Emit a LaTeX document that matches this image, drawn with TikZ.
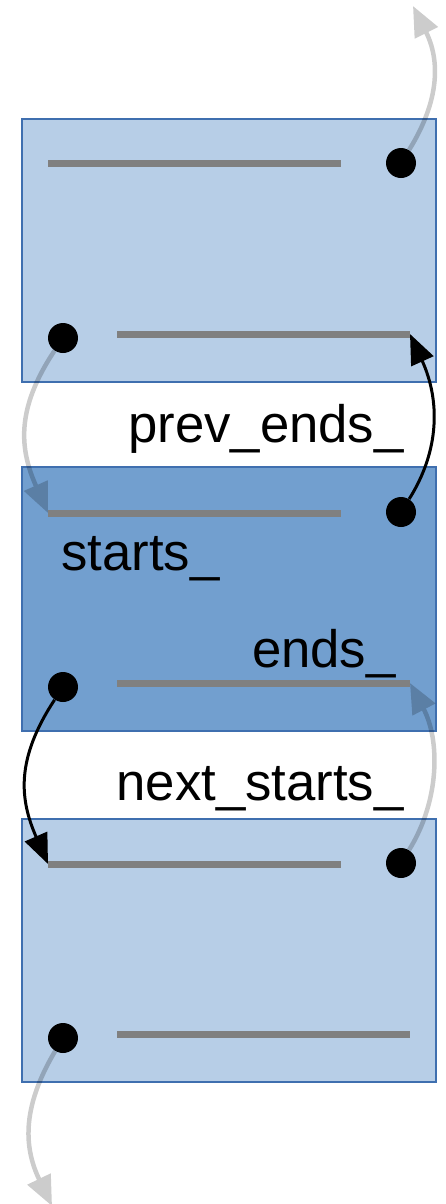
\documentclass[tikz,border=0pt]{standalone}
\usepackage{fontspec}
\setmainfont{Liberation Sans}
\usetikzlibrary{arrows.meta}

\definecolor{paleblue}{HTML}{B7CEE7}
\definecolor{deepblue}{HTML}{729FCF}
\definecolor{rimblue}{HTML}{3F6FAF}

\tikzset{
  block/.style={draw=rimblue,line width=0.6pt},
  slot/.style={draw=gray,line width=0.14cm},
  dot/.style={circle,fill=black,inner sep=0pt,minimum size=0.6cm},
  link/.style={line width=0.06cm,-{Triangle[length=0.6cm,width=0.48cm]}},
  faint/.style={line width=0.09cm,-{Triangle[length=0.6cm,width=0.5cm]}},
  tag/.style={inner sep=0pt,font=\fontsize{30}{36}\selectfont}
}

\begin{document}
\begin{tikzpicture}[x=0.02cm,y=-0.02cm]
\useasboundingbox (0,0) rectangle (446,1204);

% the three chunks
\draw[block,fill=paleblue] (22,119) rectangle (436,382);
\draw[block,fill=deepblue] (22,467) rectangle (436,731);
\draw[block,fill=paleblue] (22,819) rectangle (436,1082);

% start/end slots of each chunk
\draw[slot] (48,163) -- (341,163);
\draw[slot] (117,334) -- (410,334);
\draw[slot] (48,513) -- (341,513);
\draw[slot] (117,683) -- (410,683);
\draw[slot] (48,864) -- (341,864);
\draw[slot] (117,1034) -- (410,1034);

\coordinate (up) at (413,6);
\coordinate (down) at (52,1206);
\coordinate (prevend) at (410,334);
\coordinate (curstart) at (48,513);
\coordinate (curend) at (410,683);
\coordinate (nextstart) at (48,864);

\node[dot] (prevA) at (401,163) {};
\node[dot] (prevB) at (63,338) {};
\node[dot] (curA) at (401,512) {};
\node[dot] (curB) at (63,687) {};
\node[dot] (nextA) at (401,863) {};
\node[dot] (nextB) at (63,1038) {};

% faded neighbour links
\begin{scope}[transparency group,opacity=0.2]
\draw[faint] (prevA) .. controls (440,100) and (440,60) .. (up);
\draw[faint] (prevB) .. controls (15,410) and (20,450) .. (curstart);
\draw[faint] (nextA) .. controls (440,800) and (440,740) .. (curend);
\draw[faint] (nextB) .. controls (20,1110) and (25,1150) .. (down);
\end{scope}

% links of the middle chunk
\draw[link] (curA) .. controls (440,450) and (440,400) .. (prevend);
\draw[link] (curB) .. controls (15,760) and (20,800) .. (nextstart);

\node[tag,anchor=base east] (prevends) at (404,442) {prev\_ends\_};
\node[tag,anchor=base west] (starts) at (61,570) {starts\_};
\node[tag,anchor=base east] (ends) at (396,667) {ends\_};
\node[tag,anchor=base east] (nextstarts) at (404,800) {next\_starts\_};
\end{tikzpicture}
\end{document}
